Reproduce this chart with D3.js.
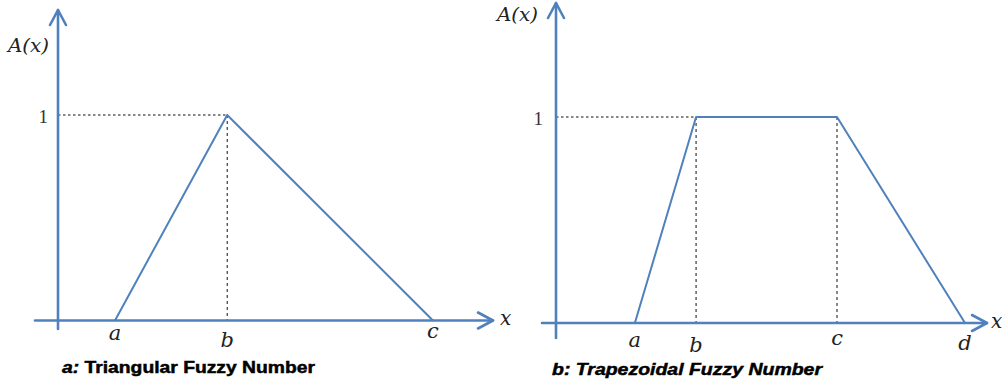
<!DOCTYPE html>
<html><head><meta charset="utf-8">
<script src="https://cdn.jsdelivr.net/npm/d3@7"></script>
<style>html,body{margin:0;padding:0;background:#fff;}svg{display:block;}</style>
</head><body>
<svg id="c" width="1002" height="388"></svg>
<script>
// ---- data ----
const triCategories = ["a", "b", "c"];
const triX = [13.1, 38.9, 86.2];
const triY = [0, 1, 0];
const trapCategories = ["a", "b", "c", "d"];
const trapX = [18.3, 32.5, 65.2, 94.9];
const trapY = [0, 1, 1, 0];
const yTickValues = [1];
const yTickLabels = ["1"];
const captions = [["a:", " Triangular Fuzzy Number"], ["b:", " Trapezoidal Fuzzy Number"]];

// ---- layout / style ----
const svg = d3.select("#c");
const blue = "#4f81bd";
const panels = [
  {cats: triCategories, xs: triX, ys: triY, x0: 58, x1: 493, y0: 320.5, y1: 115, top: 10,
   axisLeft: 35, axisBottom: 329, labelBase: [340, 347, 338], ax: [8, 52], one: [48, 123],
   cap: {x: 62, y: 373, w: 253, italicAll: false}, cap_i: 0, xlab: [500, 325]},
  {cats: trapCategories, xs: trapX, ys: trapY, x0: 556, x1: 987, y0: 323, y1: 117, top: 3,
   axisLeft: 542, axisBottom: 338, labelBase: [347, 352, 345, 350], ax: [497, 21], one: [543, 125],
   cap: {x: 552, y: 375, w: 270, italicAll: true}, cap_i: 1, xlab: [991, 328]}
];

panels.forEach(p => {
  const x = d3.scaleLinear().domain([0, 100]).range([p.x0, p.x1]);
  const y = d3.scaleLinear().domain([0, 1]).range([p.y0, p.y1]);
  const g = svg.append("g");

  // dotted guides
  p.xs.forEach((v, i) => {
    if (p.ys[i] === 1) {
      g.append("line").attr("x1", x(v)).attr("x2", x(v)).attr("y1", y(1)).attr("y2", y(0))
        .attr("stroke", "#111").attr("stroke-width", 1).attr("stroke-dasharray", "3,3");
    }
  });
  const firstPeak = p.xs[p.ys.indexOf(1)];
  yTickValues.forEach(t => {
    g.append("line").attr("x1", x(0)).attr("x2", x(firstPeak)).attr("y1", y(t)).attr("y2", y(t))
      .attr("stroke", "#111").attr("stroke-width", 1).attr("stroke-dasharray", "2.5,2.5");
  });

  // axes
  const ax = g.append("g").attr("stroke", blue).attr("stroke-width", 2.6).attr("fill", "none")
    .attr("stroke-linecap", "round").attr("stroke-linejoin", "round");
  ax.append("line").attr("x1", p.axisLeft).attr("x2", x(100)).attr("y1", y(0)).attr("y2", y(0));
  ax.append("line").attr("x1", x(0)).attr("x2", x(0)).attr("y1", p.axisBottom).attr("y2", p.top);
  ax.append("path").attr("d", `M${x(100) - 15},${y(0) - 8}L${x(100)},${y(0)}L${x(100) - 15},${y(0) + 8}`);
  ax.append("path").attr("d", `M${x(0) - 8},${p.top + 15}L${x(0)},${p.top}L${x(0) + 8},${p.top + 15}`);

  // membership function
  const line = d3.line().x((d, i) => x(p.xs[i])).y(d => y(d));
  g.append("path").datum(p.ys).attr("d", line).attr("fill", "none")
    .attr("stroke", blue).attr("stroke-width", 2).attr("stroke-linejoin", "round");

  // category labels
  const serif = "'DejaVu Serif', serif";
  p.cats.forEach((c, i) => {
    g.append("text").attr("x", x(p.xs[i])).attr("y", p.labelBase[i]).attr("text-anchor", "middle")
      .attr("font-family", serif).attr("font-style", "italic").attr("font-size", 21)
      .attr("fill", "#222").text(c);
  });
  g.append("text").attr("x", p.xlab[0]).attr("y", p.xlab[1]).attr("font-family", serif)
    .attr("font-style", "italic").attr("font-size", 20).attr("fill", "#222").text("x");
  g.append("text").attr("x", p.ax[0]).attr("y", p.ax[1]).attr("font-family", serif)
    .attr("font-style", "italic").attr("font-size", 19).attr("fill", "#222").attr("textLength", 41)
    .attr("lengthAdjust", "spacingAndGlyphs").text("A(x)");
  yTickLabels.forEach((t, i) => {
    g.append("text").attr("x", p.one[0]).attr("y", p.one[1]).attr("text-anchor", "end")
      .attr("font-family", "'Liberation Serif', serif").attr("font-size", 19).attr("fill", "#333").text(t);
  });

  // caption
  const cap = captions[p.cap_i];
  const ct = g.append("text").attr("x", p.cap.x).attr("y", p.cap.y)
    .attr("font-family", "'Liberation Sans', Arial, sans-serif").attr("font-weight", "bold")
    .attr("font-size", 17).attr("fill", "#000").attr("stroke", "#000").attr("stroke-width", 0.5)
    .attr("textLength", p.cap.w).attr("lengthAdjust", "spacingAndGlyphs");
  ct.append("tspan").attr("font-style", "italic").text(cap[0]);
  ct.append("tspan").attr("font-style", p.cap.italicAll ? "italic" : "normal").text(cap[1]);
});
</script>
</body></html>
